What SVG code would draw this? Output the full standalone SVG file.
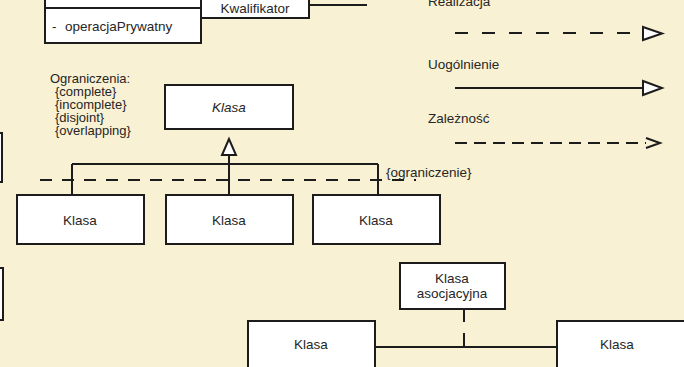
<svg xmlns="http://www.w3.org/2000/svg" width="684" height="367" viewBox="0 0 684 367">
  <style>
    .box { fill: #ffffff; stroke: #1c1c1c; stroke-width: 2; }
    .ln { fill: none; stroke: #1c1c1c; stroke-width: 2; }
    .dash { fill: none; stroke: #1c1c1c; stroke-width: 2; }
    .tri { fill: #ffffff; stroke: #1c1c1c; stroke-width: 2; stroke-linejoin: miter; }
    text { font-family: "Liberation Sans", Arial, sans-serif; font-size: 13.5px; fill: #262626; }
    .c { text-anchor: middle; }
    .it { font-style: italic; }
    .note { font-size: 13px; }
  </style>
  <rect x="0" y="0" width="684" height="367" fill="#f9f1d4"/>

  <!-- partially visible classes at the left border -->
  <g id="edge-class-1"><rect class="box" x="-60" y="133" width="62" height="49"/></g>
  <g id="edge-class-2"><rect class="box" x="-60" y="268" width="63" height="52"/></g>

  <!-- class with operations and qualifier -->
  <g id="class-ops">
    <rect class="box" x="45" y="-30" width="156" height="73"/>
    <line class="ln" x1="45" y1="8" x2="201" y2="8"/>
    <text x="52" y="31">-</text>
    <text x="65" y="31">operacjaPrywatny</text>
  </g>
  <g id="qualifier">
    <rect class="box" x="201" y="-30" width="108" height="48"/>
    <text class="c" x="255" y="13">Kwalifikator</text>
  </g>

  <!-- generalization -->
  <g id="constraints">
    <text class="note" x="50" y="83">Ograniczenia:</text>
    <text class="note" x="55" y="96">{complete}</text>
    <text class="note" x="55" y="109">{incomplete}</text>
    <text class="note" x="55" y="122">{disjoint}</text>
    <text class="note" x="55" y="135">{overlapping}</text>
  </g>
  <g id="superclass">
    <rect class="box" x="165" y="85" width="128" height="44"/>
    <text class="c it" x="229" y="112">Klasa</text>
  </g>
  <g id="subclass-1">
    <rect class="box" x="17" y="195" width="127" height="49"/>
    <text class="c" x="80" y="225">Klasa</text>
  </g>
  <g id="subclass-2">
    <rect class="box" x="166" y="195" width="127" height="49"/>
    <text class="c" x="229" y="225">Klasa</text>
  </g>
  <g id="subclass-3">
    <rect class="box" x="313" y="195" width="127" height="49"/>
    <text class="c" x="376" y="225">Klasa</text>
  </g>
  <g id="constraint-label">
    <text x="386" y="177">{ograniczenie}</text>
  </g>

  <!-- association class -->
  <g id="assoc-class">
    <rect class="box" x="400" y="263" width="105" height="46"/>
    <text class="c" x="452" y="283">Klasa</text>
    <text class="c" x="452" y="298">asocjacyjna</text>
  </g>
  <g id="assoc-left">
    <rect class="box" x="248" y="321" width="127" height="60"/>
    <text class="c" x="311" y="349">Klasa</text>
  </g>
  <g id="assoc-right">
    <rect class="box" x="557" y="321" width="140" height="60"/>
    <text class="c" x="617" y="349">Klasa</text>
  </g>

  <!-- legend -->
  <g id="legend">
    <text x="428" y="6">Realizacja</text>
    <text x="428" y="69">Uogólnienie</text>
    <text x="428" y="123">Zależność</text>
  </g>

  <g id="connectors">
    <!-- qualifier association -->
    <line class="ln" x1="309" y1="5" x2="367" y2="5"/>
    <!-- generalization tree -->
    <polygon class="tri" points="229,139 222,155 236,155"/>
    <line class="ln" x1="229" y1="155" x2="229" y2="195"/>
    <line class="ln" x1="72" y1="164" x2="378" y2="164"/>
    <line class="ln" x1="72" y1="164" x2="72" y2="195"/>
    <line class="ln" x1="378" y1="164" x2="378" y2="195"/>
    <line class="dash" x1="40" y1="180" x2="416" y2="180" stroke-dasharray="12 10"/>
    <!-- association with association class -->
    <line class="ln" x1="375" y1="347" x2="557" y2="347"/>
    <line class="dash" x1="464" y1="309" x2="464" y2="347" stroke-dasharray="13 11"/>
    <!-- legend arrows -->
    <line class="dash" x1="455" y1="33" x2="630" y2="33" stroke-dasharray="13 14"/>
    <polygon class="tri" points="643,27 662,33.5 643,40"/>
    <line class="ln" x1="455" y1="88" x2="643" y2="88"/>
    <polygon class="tri" points="643,81 662,88 643,95"/>
    <line class="dash" x1="455" y1="143" x2="646" y2="143" stroke-dasharray="12 7"/>
    <polyline class="ln" points="646,138 660,143 646,148"/>
  </g>
</svg>
